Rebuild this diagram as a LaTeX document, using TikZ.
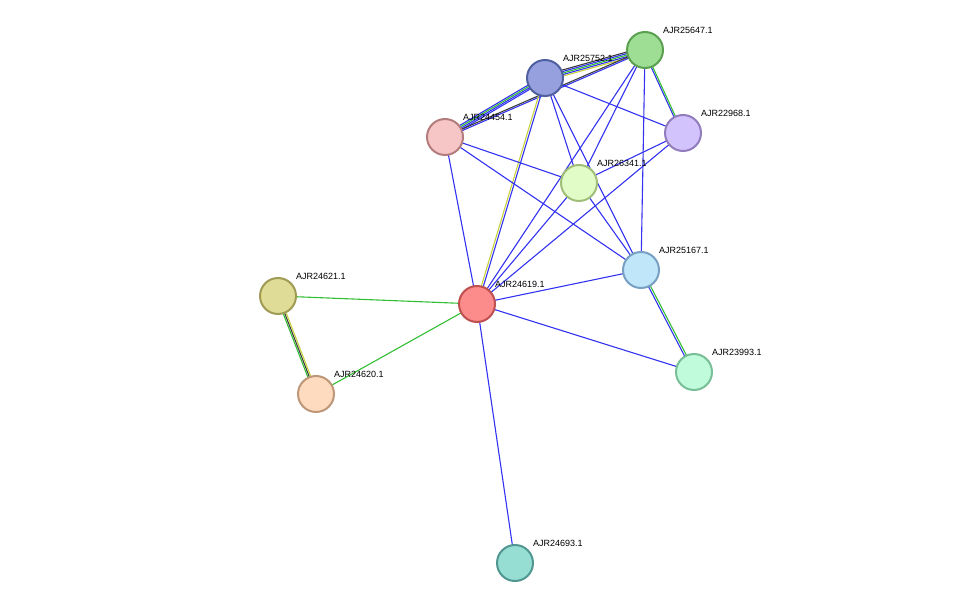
\documentclass[tikz,border=0pt]{standalone}
\usepackage{fontspec}
\setmainfont{Liberation Sans}
\usetikzlibrary{calc}
\definecolor{eb}{RGB}{50,50,240}
\definecolor{eg}{RGB}{50,190,50}
\definecolor{ey}{RGB}{200,210,60}
\definecolor{ek}{RGB}{60,60,60}
\tikzset{prot/.style={circle,minimum size=36pt,inner sep=0pt,line width=2pt},
 lab/.style={font=\fontsize{9}{10}\selectfont,anchor=south west,inner sep=1pt},
 ed/.style={line width=1.1pt}}
\newcommand\ml[4]{\draw[ed,#4] ($(#1)!#3!90:(#2)$) -- ($(#2)!#3!-90:(#1)$);}
\begin{document}
\begin{tikzpicture}[x=1pt,y=-1pt]
\useasboundingbox (0,0) rectangle (976,609);
\coordinate (a47) at (645,50);
\coordinate (a52) at (545,78);
\coordinate (a54) at (445,137);
\coordinate (a68) at (683,133);
\coordinate (a41) at (579,183);
\coordinate (a67) at (641,270);
\coordinate (a21) at (278,296);
\coordinate (a19) at (477,304);
\coordinate (a20) at (316,394);
\coordinate (a93) at (694,372);
\coordinate (a93b) at (515,563);
% edges
\ml{a52}{a47}{-3pt}{ey}\ml{a52}{a47}{-1.5pt}{eb}\ml{a52}{a47}{0pt}{eg}\ml{a52}{a47}{1.5pt}{eb}\ml{a52}{a47}{3pt}{ek}
\ml{a54}{a52}{-2pt}{eb}\ml{a54}{a52}{-0.5pt}{eb}\ml{a54}{a52}{1pt}{eg}\ml{a54}{a52}{2.5pt}{eb}
\ml{a54}{a47}{-1pt}{eb}\ml{a54}{a47}{0.5pt}{ek}
\ml{a52}{a19}{-1pt}{ey}\ml{a52}{a19}{1pt}{eb}
\ml{a47}{a68}{-1.5pt}{eb}\ml{a47}{a68}{0pt}{eg}
\ml{a67}{a93}{-1pt}{eb}\ml{a67}{a93}{1pt}{eg}
\ml{a21}{a20}{-1.5pt}{eg}\ml{a21}{a20}{0pt}{ek}\ml{a21}{a20}{1.5pt}{ey}
\foreach \u/\v in {a52/a68,a52/a41,a52/a67,a47/a41,a47/a19,a47/a67,a54/a41,a54/a67,a54/a19,a68/a41,a68/a19,a41/a19,a41/a67,a67/a19,a19/a93,a19/a93b}
  \draw[ed,eb] (\u) -- (\v);
\foreach \u/\v in {a19/a21,a19/a20} \draw[ed,eg] (\u) -- (\v);
% nodes
\node[prot,draw={rgb,255:red,90;green,160;blue,80},fill={rgb,255:red,158;green,222;blue,148}] (n47) at (a47) {};
\node[prot,draw={rgb,255:red,80;green,95;blue,160},fill={rgb,255:red,150;green,160;blue,222}] (n52) at (a52) {};
\node[prot,draw={rgb,255:red,180;green,125;blue,125},fill={rgb,255:red,246;green,198;blue,198}] (n54) at (a54) {};
\node[prot,draw={rgb,255:red,145;green,125;blue,190},fill={rgb,255:red,210;green,195;blue,252}] (n68) at (a68) {};
\node[prot,draw={rgb,255:red,160;green,190;blue,120},fill={rgb,255:red,225;green,252;blue,198}] (n41) at (a41) {};
\node[prot,draw={rgb,255:red,120;green,160;blue,195},fill={rgb,255:red,192;green,230;blue,250}] (n67) at (a67) {};
\node[prot,draw={rgb,255:red,160;green,155;blue,85},fill={rgb,255:red,222;green,220;blue,150}] (n21) at (a21) {};
\node[prot,draw={rgb,255:red,190;green,80;blue,80},fill={rgb,255:red,252;green,140;blue,140}] (n19) at (a19) {};
\node[prot,draw={rgb,255:red,190;green,150;blue,120},fill={rgb,255:red,254;green,218;blue,190}] (n20) at (a20) {};
\node[prot,draw={rgb,255:red,120;green,190;blue,150},fill={rgb,255:red,192;green,252;blue,220}] (n93) at (a93) {};
\node[prot,draw={rgb,255:red,80;green,150;blue,145},fill={rgb,255:red,150;green,222;blue,212}] (n93b) at (a93b) {};
% labels
\node[lab] (l47) at (662,35) {AJR25647.1};
\node[lab] (l52) at (562,63) {AJR25752.1};
\node[lab] (l54) at (462,122) {AJR24454.1};
\node[lab] (l68) at (700,118) {AJR22968.1};
\node[lab] (l41) at (596,168) {AJR26341.1};
\node[lab] (l67) at (658,255) {AJR25167.1};
\node[lab] (l21) at (295,281) {AJR24621.1};
\node[lab] (l19) at (494,289) {AJR24619.1};
\node[lab] (l20) at (333,379) {AJR24620.1};
\node[lab] (l93) at (711,357) {AJR23993.1};
\node[lab] (l93b) at (532,548) {AJR24693.1};
\end{tikzpicture}
\end{document}
